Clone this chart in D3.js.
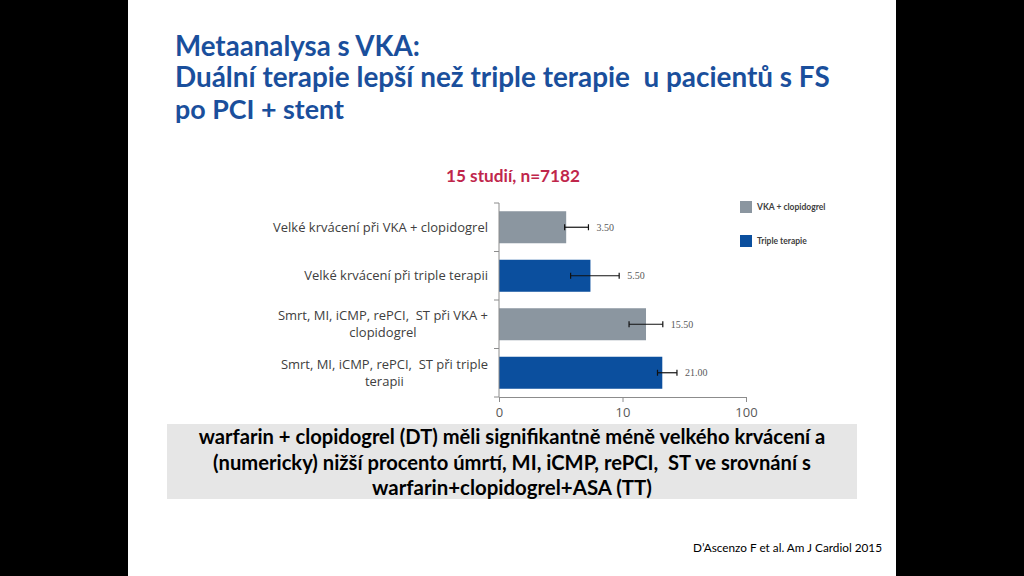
<!DOCTYPE html>
<html>
<head>
<meta charset="utf-8">
<script src="https://cdn.jsdelivr.net/npm/d3@7"></script>
<style>
  html, body { margin: 0; padding: 0; background: #000; }
  svg text { white-space: pre; }
</style>
</head>
<body>
<script>
// ---- data ----
var titleLines = ["Metaanalysa s VKA:", "Duální terapie lepší než triple terapie  u pacientů s FS", "po PCI + stent"];
var subtitle = "15 studií, n=7182";
var categoryLines = [
  ["Velké krvácení při VKA + clopidogrel"],
  ["Velké krvácení při triple terapii"],
  ["Smrt, MI, iCMP, rePCI,  ST při VKA +", "clopidogrel"],
  ["Smrt, MI, iCMP, rePCI,  ST při triple", "terapii"]
];
var barSeries = ["VKA + clopidogrel", "Triple terapie", "VKA + clopidogrel", "Triple terapie"];
var values = [3.5, 5.5, 15.5, 21.0];
var ciLow = [3.4, 3.8, 11.3, 19.2];
var ciHigh = [5.3, 9.4, 21.2, 27.6];
var legendSeries = ["VKA + clopidogrel", "Triple terapie"];
var xTicks = [1, 10, 100];
var xTickLabels = ["0", "10", "100"];
var boxLines = [
  "warfarin + clopidogrel (DT) měli signifikantně méně velkého krvácení a",
  "(numericky) nižší procento úmrtí, MI, iCMP, rePCI,  ST ve srovnání s",
  "warfarin+clopidogrel+ASA (TT)"
];
var citation = "D’Ascenzo F et al. Am J Cardiol 2015";

var colors = {"VKA + clopidogrel": "#8b96a0", "Triple terapie": "#0b4f9e"};

var svg = d3.select("body").append("svg")
  .attr("width", 1024).attr("height", 576);

// slide area
svg.append("rect").attr("x", 128).attr("y", 0).attr("width", 768).attr("height", 576).attr("fill", "#fff");

// scale a text's font-size so it fits a target width
function fitWidth(sel, target) {
  sel.each(function(){
    var fs = parseFloat(this.getAttribute("font-size"));
    var w = this.getComputedTextLength();
    if (w > 0) this.setAttribute("font-size", (fs * target / w).toFixed(2));
  });
}

// title
var titleFont = "Lato, 'Open Sans', sans-serif";
var titleY = [56, 87, 119];
var titleW = [245, 655, 169];
titleLines.forEach(function(t, i){
  svg.append("text").attr("x", 175).attr("y", titleY[i])
    .attr("font-family", titleFont).attr("font-weight", "bold")
    .attr("font-size", 26).attr("fill", "#1a4f9c").text(t)
    .call(fitWidth, titleW[i]);
});

svg.append("text").attr("x", 513).attr("y", 182).attr("text-anchor", "middle")
  .attr("font-family", titleFont).attr("font-weight", "bold")
  .attr("font-size", 17).attr("fill", "#c0264b").text(subtitle)
  .call(fitWidth, 134);

// chart
var x = d3.scaleLog().domain([1, 100]).range([499, 746]);
var y = d3.scaleBand().domain(d3.range(values.length)).range([203, 397]).paddingInner(0.34).paddingOuter(0.17);
var axisColor = "#8c8c8c";
var labelFont = "'Open Sans', 'DejaVu Sans', sans-serif";

var g = svg.append("g");

g.selectAll("rect.bar").data(values).enter().append("rect")
  .attr("class", "bar")
  .attr("x", x(1))
  .attr("y", function(d, i){ return y(i); })
  .attr("width", function(d){ return x(d) - x(1); })
  .attr("height", y.bandwidth())
  .attr("fill", function(d, i){ return colors[barSeries[i]]; });

// error bars
var eb = g.selectAll("g.err").data(values).enter().append("g").attr("class", "err")
  .attr("transform", function(d, i){ return "translate(0," + (y(i) + y.bandwidth() / 2) + ")"; });
eb.append("line")
  .attr("x1", function(d, i){ return x(ciLow[i]); })
  .attr("x2", function(d, i){ return x(ciHigh[i]); })
  .attr("stroke", "#111").attr("stroke-width", 1.2);
eb.append("line")
  .attr("x1", function(d, i){ return x(ciLow[i]); })
  .attr("x2", function(d, i){ return x(ciLow[i]); })
  .attr("y1", -3).attr("y2", 3).attr("stroke", "#111").attr("stroke-width", 1.2);
eb.append("line")
  .attr("x1", function(d, i){ return x(ciHigh[i]); })
  .attr("x2", function(d, i){ return x(ciHigh[i]); })
  .attr("y1", -3).attr("y2", 3).attr("stroke", "#111").attr("stroke-width", 1.2);
eb.append("text")
  .attr("x", function(d, i){ return x(ciHigh[i]) + 8; })
  .attr("dy", "0.35em")
  .attr("font-family", "'Liberation Serif', serif").attr("font-size", 10)
  .attr("fill", "#595959")
  .text(function(d){ return d.toFixed(2); });

// y axis with category boundaries
var yAxis = g.append("g");
yAxis.append("line").attr("x1", x(1)).attr("x2", x(1)).attr("y1", y.range()[0]).attr("y2", y.range()[1])
  .attr("stroke", axisColor);
d3.range(values.length + 1).forEach(function(i){
  var yy = y.range()[0] + i * (y.range()[1] - y.range()[0]) / values.length;
  yAxis.append("line").attr("x1", x(1) - 5).attr("x2", x(1)).attr("y1", yy).attr("y2", yy).attr("stroke", axisColor);
});

// category labels: size taken from the first label so it spans like the original
var probe = g.append("text").attr("font-family", labelFont).attr("font-size", 12)
  .text(categoryLines[0][0]).call(fitWidth, 215);
var labelSize = +probe.attr("font-size");
probe.remove();

categoryLines.forEach(function(lines, i){
  var cy = y(i) + y.bandwidth() / 2;
  var t = g.append("text").attr("font-family", labelFont).attr("font-size", labelSize)
    .attr("fill", "#404040");
  var spans = lines.map(function(l, k){
    return t.append("tspan").text(l)
      .attr("y", cy + (k - (lines.length - 1) / 2) * 17).attr("dy", "0.35em");
  });
  var widths = spans.map(function(s){ return s.node().getComputedTextLength(); });
  var maxW = d3.max(widths);
  var right = 488;
  spans.forEach(function(s){
    s.attr("x", right - maxW / 2).attr("text-anchor", "middle");
  });
});

// x axis
var xAxis = d3.axisBottom(x).tickValues(xTicks)
  .tickFormat(function(d, i){ return xTickLabels[i]; })
  .tickSize(5).tickSizeOuter(0);
var xg = g.append("g").attr("transform", "translate(0,397)").call(xAxis);
xg.select(".domain").attr("stroke", axisColor);
xg.selectAll(".tick line").attr("stroke", axisColor);
xg.selectAll(".tick text").attr("font-family", labelFont).attr("font-size", 13)
  .attr("fill", "#595959").attr("dy", "0.95em");

// legend
var lg = svg.append("g").attr("transform", "translate(740,201)");
legendSeries.forEach(function(s, i){
  var row = lg.append("g").attr("transform", "translate(0," + (i * 34) + ")");
  row.append("rect").attr("width", 12).attr("height", 12).attr("fill", colors[s]);
  row.append("text").attr("x", 17).attr("y", 6).attr("dy", "0.35em")
    .attr("font-family", titleFont).attr("font-weight", "bold").attr("font-size", 8.5)
    .attr("fill", "#404040").text(s);
});

// conclusion box
svg.append("rect").attr("x", 167).attr("y", 424).attr("width", 690).attr("height", 75).attr("fill", "#e6e6e6");
var boxW = [627, 598, 280];
boxLines.forEach(function(l, i){
  svg.append("text").attr("x", 512).attr("y", 444 + i * 25.5).attr("text-anchor", "middle")
    .attr("font-family", titleFont).attr("font-weight", "bold").attr("font-size", 19)
    .attr("fill", "#000").text(l)
    .call(fitWidth, boxW[i]);
});

svg.append("text").attr("x", 882).attr("y", 552).attr("text-anchor", "end")
  .attr("font-family", titleFont).attr("font-size", 11).attr("fill", "#000")
  .text(citation).call(fitWidth, 189);
</script>
</body>
</html>
